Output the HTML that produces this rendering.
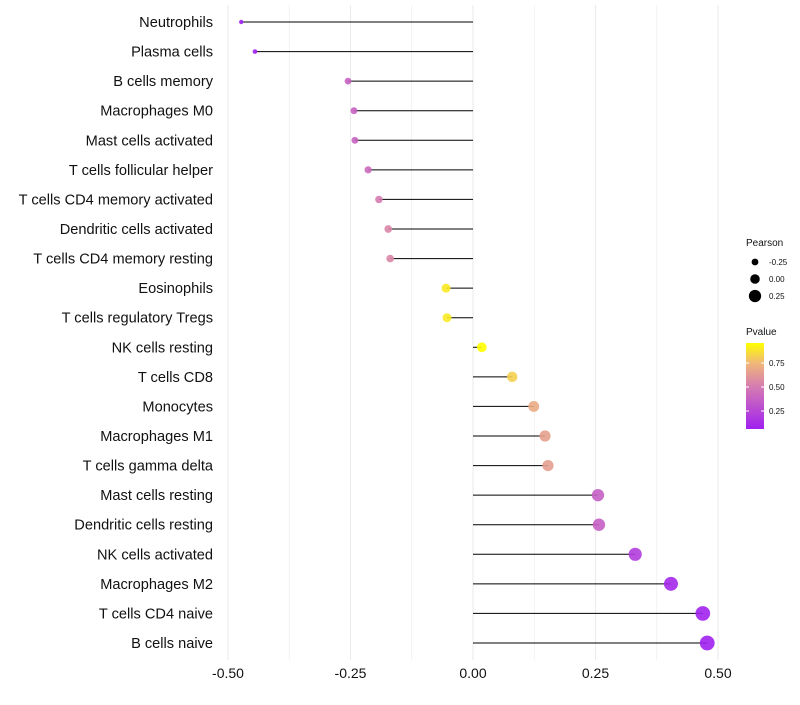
<!DOCTYPE html>
<html><head><meta charset="utf-8"><style>
body{margin:0;background:#fff;font-family:"Liberation Sans",sans-serif;}
</style></head><body>
<svg id="c" width="800" height="700" xmlns="http://www.w3.org/2000/svg">
<defs><linearGradient id="pg" x1="0" y1="1" x2="0" y2="0">
<stop offset="0" stop-color="#A020F0"/><stop offset="0.5" stop-color="#D67DB0"/><stop offset="0.77" stop-color="#F0B878"/><stop offset="1" stop-color="#FFFF00"/></linearGradient></defs>
</svg>
<script>
const categories=["Neutrophils","Plasma cells","B cells memory","Macrophages M0","Mast cells activated","T cells follicular helper","T cells CD4 memory activated","Dendritic cells activated","T cells CD4 memory resting","Eosinophils","T cells regulatory  Tregs ","NK cells resting","T cells CD8","Monocytes","Macrophages M1","T cells gamma delta","Mast cells resting","Dendritic cells resting","NK cells activated","Macrophages M2","T cells CD4 naive","B cells naive"];
const pearson=[-0.473,-0.445,-0.255,-0.243,-0.241,-0.214,-0.192,-0.173,-0.169,-0.055,-0.053,0.018,0.080,0.124,0.147,0.153,0.255,0.257,0.331,0.404,0.469,0.478];
const pvalue=[0.06,0.08,0.38,0.38,0.39,0.42,0.5,0.55,0.55,0.9,0.9,0.96,0.82,0.7,0.66,0.65,0.37,0.37,0.2,0.1,0.07,0.06];
const xTicks=[-0.5,-0.25,0,0.25,0.5];
const xTickLabels=["-0.50","-0.25","0.00","0.25","0.50"];
const NS="http://www.w3.org/2000/svg",svg=document.getElementById('c');
const x=v=>473+v*490;
const y=i=>22+i*(621/21);
const r=v=>2.2+(v+0.473)/(0.951)*5.2;
function col(p){const t=Math.max(0,Math.min(1,(p-0.06)/0.9));
const st=[[0,[160,32,240]],[0.5,[214,125,176]],[0.77,[240,184,120]],[1,[255,255,0]]];
for(let k=1;k<st.length;k++){if(t<=st[k][0]){const a=st[k-1],b=st[k],f=(t-a[0])/(b[0]-a[0]);return 'rgb('+a[1].map((c,j)=>Math.round(c+(b[1][j]-c)*f)).join(',')+')';}}return 'rgb(255,255,0)';}
function el(t,a,p){const e=document.createElementNS(NS,t);for(const k in a)e.setAttribute(k,a[k]);(p||svg).appendChild(e);return e;}
for(let k=0;k<9;k++){const v=-0.5+k*0.125;const g=el('line',{x1:x(v),x2:x(v),y1:5,y2:660,stroke:'#ebebeb','stroke-width':k%2?0.6:1.1});

}
xTicks.forEach((v,i)=>{const t=el('text',{x:x(v),y:678,'text-anchor':'middle','font-size':14,fill:'#111'});t.textContent=xTickLabels[i];

});
categories.forEach((c,i)=>{
const t=el('text',{x:213,y:y(i)+5,'text-anchor':'end','font-size':14.6,fill:'#111'});t.textContent=c;t.setAttribute('xml:space','preserve');


const l=el('line',{x1:x(0),x2:x(pearson[i]),y1:y(i),y2:y(i),stroke:'#000','stroke-width':1});


const d=el('circle',{cx:x(pearson[i]),cy:y(i),r:r(pearson[i]),fill:col(pvalue[i]),'fill-opacity':0.9});


});
const lg=el('g',{});


let t=el('text',{x:746,y:246,'font-size':10,fill:'#111'},lg);t.textContent='Pearson';
[-0.25,0,0.25].forEach((v,i)=>{el('circle',{cx:755,cy:262+i*17,r:r(v),fill:'#000'},lg);
const tt=el('text',{x:769,y:265+i*17,'font-size':8,fill:'#111'},lg);tt.textContent=v===0?'0.00':v.toFixed(2);});
t=el('text',{x:746,y:335,'font-size':10,fill:'#111'},lg);t.textContent='Pvalue';
el('rect',{x:746,y:343,width:18,height:86,fill:'url(#pg)'},lg);
[0.75,0.5,0.25].forEach((v,i)=>{const yy=363+i*24;el('line',{x1:746,x2:749,y1:yy,y2:yy,stroke:'#fff'},lg);el('line',{x1:761,x2:764,y1:yy,y2:yy,stroke:'#fff'},lg);
const tt=el('text',{x:769,y:yy+3,'font-size':8,fill:'#111'},lg);tt.textContent=v.toFixed(2);});
</script>
</body></html>
